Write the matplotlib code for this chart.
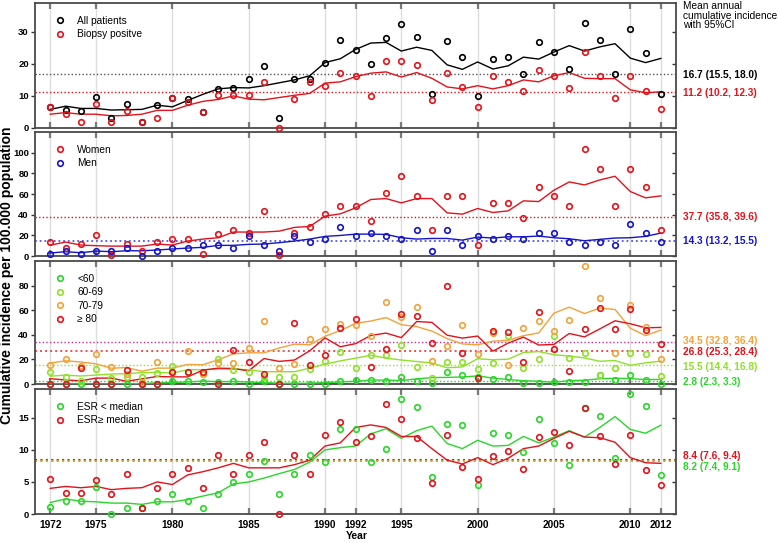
import matplotlib
matplotlib.use('Agg')
import matplotlib.pyplot as plt
from matplotlib.lines import Line2D

plt.rcParams['font.family'] = ['Liberation Sans', 'DejaVu Sans']

years = list(range(1972, 2013))
xticks = [1972, 1975, 1980, 1985, 1990, 1992, 1995, 2000, 2005, 2010, 2012]

# panel 1: all patients / biopsy positive
all_pts = [6.5, 5.5, 5.4, 9.6, 3.1, 7.4, 2.0, 7.2, 9.3, 9.1,
           4.9, 12.3, 12.4, 15.2, 19.4, 3.1, 15.2, 15.2, 20.3, 27.5,
           24.3, 20.1, 28.0, 32.5, 28.4, 10.6, 27.2, 22.3, 10.0, 21.6,
           22.0, 16.7, 26.7, 23.6, 18.4, 32.7, 27.4, 16.7, 31.0, 23.5, 10.5]
all_ma = [5.8, 6.8, 6.1, 6.1, 5.6, 5.7, 5.8, 7.1, 6.6, 8.6,
          10.5, 12.2, 12.6, 12.5, 13.2, 14.1, 15.0, 16.3, 20.4, 21.6,
          24.5, 26.5, 26.7, 24.0, 25.2, 24.2, 19.7, 18.3, 20.6, 18.4,
          19.4, 22.1, 21.5, 23.7, 25.7, 24.0, 25.3, 26.3, 21.8, 20.4, 21.7]
bio_pts = [6.5, 4.3, 2.0, 7.5, 2.0, 5.2, 2.0, 3.1, 9.3, 8.1,
           4.9, 10.2, 10.2, 10.2, 14.4, 0.1, 9.1, 14.4, 13.2, 17.1,
           16.2, 10.1, 21.0, 20.8, 19.6, 8.6, 17.0, 12.9, 6.4, 16.2,
           14.3, 11.4, 18.1, 16.2, 12.5, 23.8, 16.2, 9.4, 16.2, 11.5, 5.9]
bio_ma = [4.3, 4.8, 4.3, 4.3, 3.8, 3.9, 4.3, 5.5, 5.5, 7.1,
          8.3, 8.9, 10.0, 9.0, 8.8, 9.5, 10.2, 10.8, 14.0, 14.4,
          16.0, 17.1, 17.5, 15.9, 17.3, 15.5, 12.8, 12.2, 13.2, 12.2,
          13.2, 15.0, 14.4, 16.3, 17.3, 15.5, 15.4, 15.4, 11.9, 11.0, 11.3]

# panel 2: women / men
women = [13.5, 7.7, 11.3, 19.9, 1.0, 11.3, 4.8, 13.8, 16.7, 16.7,
         1.6, 21.5, 25.1, 22.5, 43.4, 1.0, 22.5, 28.3, 40.5, 48.6,
         48.6, 34.1, 60.5, 77.8, 57.6, 25.4, 57.6, 57.6, 10.6, 51.4,
         51.4, 37.0, 66.6, 57.6, 48.6, 103.9, 83.9, 48.6, 83.9, 66.6, 25.4]
women_ma = [10.6, 13.5, 10.6, 10.0, 9.6, 9.6, 9.6, 11.6, 10.6, 14.5,
            16.4, 17.7, 23.2, 23.2, 23.2, 24.1, 27.7, 28.6, 38.6, 40.8,
            46.6, 54.7, 55.6, 51.4, 55.6, 55.6, 41.8, 40.5, 46.0, 42.1,
            43.7, 53.4, 52.7, 63.7, 71.7, 68.8, 73.6, 77.2, 62.4, 56.3, 58.2]
men = [1.6, 4.8, 1.6, 4.8, 4.8, 7.7, 0.0, 4.8, 7.7, 7.7,
       10.6, 10.6, 7.7, 19.3, 10.6, 4.8, 19.3, 13.8, 16.1, 28.3,
       19.3, 21.9, 19.3, 16.4, 25.4, 4.8, 25.4, 10.6, 19.3, 16.4,
       19.3, 16.4, 22.2, 22.2, 13.8, 10.6, 13.8, 10.6, 31.2, 22.2, 13.8]
men_ma = [2.9, 4.2, 3.2, 4.8, 4.2, 5.1, 5.1, 5.8, 6.8, 7.7,
          8.4, 10.3, 10.3, 11.3, 11.6, 12.9, 14.5, 16.4, 19.0, 19.9,
          21.2, 21.2, 20.9, 17.7, 16.4, 17.0, 17.0, 15.4, 18.3, 17.4,
          18.6, 18.6, 19.3, 17.7, 16.7, 14.8, 16.1, 17.4, 17.7, 19.0, 22.2]

# panel 3: age groups
c60 = [0, 0, 0, 0, 0, 0, 0, 0, 2.3, 2.3,
       2.0, 2.0, 2.8, 0.4, 2.8, 0, 0, 0, 0, 2.8,
       3.0, 2.9, 2.1, 5.3, 2.7, 1.0, 9.9, 7.2, 6.1, 4.3,
       5.6, 1.0, 1.0, 1.6, 1.6, 1.6, 7.5, 3.2, 7.7, 3.5, 0]
c60_ma = [0, 0, 0, 0, 0, 0, 0.5, 0.9, 1.3, 1.7,
          2.3, 1.9, 2.0, 1.6, 1.2, 0.6, 0.6, 0.6, 1.2, 1.7,
          2.2, 3.2, 3.2, 2.8, 4.2, 5.2, 5.4, 5.7, 6.6, 4.8,
          3.6, 2.7, 2.2, 1.4, 2.7, 3.1, 4.3, 4.7, 4.4, 3.6, 3.7]
c6069 = [9.7, 5.5, 2.7, 12.6, 5.0, 5.7, 5.7, 8.7, 15.0, 10.0,
         8.0, 20.6, 11.3, 10.0, 5.5, 6.0, 5.5, 12.0, 18.5, 25.7,
         12.8, 23.2, 23.7, 31.5, 13.9, 5.0, 17.6, 17.6, 12.0, 17.3,
         38.7, 13.1, 20.0, 38.9, 21.3, 25.6, 7.5, 12.8, 25.1, 24.3, 6.4]
c6069_ma = [6.3, 7.3, 6.5, 7.3, 8.1, 8.4, 9.2, 9.5, 8.9, 11.6,
            11.6, 12.1, 12.1, 11.6, 10.0, 10.0, 10.0, 12.9, 16.1, 18.8,
            21.0, 23.4, 21.0, 19.5, 18.3, 17.1, 13.2, 13.9, 20.6, 19.7,
            20.2, 25.6, 26.4, 23.8, 22.7, 21.2, 18.5, 19.1, 15.2, 17.2, 18.6]
c7079 = [15.6, 20.4, 15.0, 24.4, 14.0, 8.4, 2.0, 18.0, 9.5, 26.8,
         8.4, 16.9, 16.7, 29.5, 51.1, 13.0, 16.1, 36.9, 44.9, 48.4,
         47.9, 38.7, 66.4, 54.4, 62.7, 18.9, 31.2, 47.7, 24.0, 41.1,
         15.7, 45.6, 51.2, 42.9, 52.0, 96.3, 69.9, 25.6, 64.5, 46.7, 20.5]
c7079_ma = [17.0, 18.9, 17.9, 16.4, 12.8, 13.4, 10.4, 12.9, 12.9, 15.9,
            15.7, 19.7, 24.5, 25.4, 25.3, 29.3, 32.4, 31.9, 38.8, 43.4,
            49.3, 51.2, 54.0, 48.2, 46.7, 43.0, 36.9, 32.6, 31.9, 34.8,
            35.5, 39.3, 41.5, 57.6, 62.5, 57.3, 61.7, 60.6, 45.4, 39.3, 43.9]
c80 = [0, 0, 13.0, 0, 0, 11.1, 0, 0, 10.0, 9.5,
       9.5, 0, 27.5, 17.8, 8.4, 0, 50.0, 15.6, 23.3, 45.9,
       52.5, 14.0, 28.4, 56.8, 55.5, 33.6, 79.5, 25.3, 4.8, 43.2,
       42.4, 17.6, 58.7, 28.8, 10.9, 45.0, 61.9, 45.0, 61.1, 44.0, 32.8]
c80_ma = [4.3, 3.3, 2.6, 4.8, 4.8, 2.2, 4.2, 6.1, 5.8, 5.8,
          11.3, 12.9, 12.6, 10.7, 20.7, 18.4, 19.5, 27.0, 37.5, 30.3,
          32.8, 39.5, 41.4, 37.7, 50.8, 50.1, 39.7, 37.3, 39.0, 26.7,
          33.3, 38.1, 31.7, 32.2, 41.1, 38.3, 44.8, 51.4, 49.0, 45.7, 46.0]

# panel 4: ESR
esr_lo = [1.05, 2.1, 2.1, 4.2, 0, 1.0, 1.0, 2.0, 3.1, 2.0,
          1.0, 3.1, 5.0, 6.2, 8.3, 3.1, 6.2, 9.25, 8.1, 13.3,
          13.3, 8.1, 10.1, 17.9, 16.7, 5.85, 14.1, 13.85, 4.6, 12.65,
          12.4, 9.6, 14.8, 11.0, 7.6, 16.5, 15.3, 8.8, 18.7, 16.8, 6.1]
esr_lo_ma = [1.8, 2.35, 2.0, 1.9, 1.7, 1.7, 1.5, 1.9, 1.9, 2.25,
             2.8, 3.3, 4.7, 5.0, 5.6, 6.3, 6.95, 8.1, 10.0, 10.35,
             10.6, 12.5, 13.3, 11.8, 13.0, 13.7, 11.0, 10.2, 11.5, 10.6,
             10.7, 12.1, 11.1, 12.0, 13.0, 12.0, 13.5, 15.2, 13.2, 12.6, 13.85]
esr_hi = [5.4, 3.2, 3.2, 5.3, 3.1, 6.2, 1.0, 4.1, 6.2, 7.1,
          4.1, 9.25, 6.2, 9.25, 11.3, 0, 9.25, 6.2, 12.3, 14.3,
          11.3, 12.2, 17.1, 14.8, 11.8, 4.8, 12.3, 7.4, 5.4, 9.0,
          9.8, 7.0, 12.0, 12.8, 10.8, 16.5, 12.2, 7.8, 12.4, 6.9, 4.5]
esr_hi_ma = [4.0, 4.3, 4.1, 4.3, 3.8, 4.0, 4.1, 5.0, 4.6, 6.1,
             6.6, 7.2, 7.9, 7.2, 7.2, 7.2, 7.7, 8.4, 10.6, 11.1,
             13.5, 13.9, 13.5, 12.1, 12.1, 10.2, 8.4, 7.8, 8.8, 7.7,
             8.7, 10.2, 10.6, 11.8, 12.9, 12.0, 11.9, 11.2, 8.8, 8.0, 7.9]

# means with CI text
means1 = [16.7, 11.2]
labels1 = ['16.7 (15.5, 18.0)', '11.2 (10.2, 12.3)']
means2 = [37.7, 14.3]
labels2 = ['37.7 (35.8, 39.6)', '14.3 (13.2, 15.5)']
means3 = [34.5, 26.8, 15.5, 2.8]
labels3 = ['34.5 (32.8, 36.4)', '26.8 (25.3, 28.4)', '15.5 (14.4, 16.8)', '2.8 (2.3, 3.3)']
means4 = [8.4, 8.2]
labels4 = ['8.4 (7.6, 9.4)', '8.2 (7.4, 9.1)']

RED = '#e3121b'
BLUE = '#1414c8'
GREEN = '#2ad62a'
LGREEN = '#8fe12a'
ORANGE = '#f2a23a'

fig = plt.figure(figsize=(7.78, 5.43), dpi=100)
L, R = 0.045, 0.869
boxes = [(0.7643, 0.9945), (0.5285, 0.7569), (0.2928, 0.5193), (0.0534, 0.2836)]
axes = [fig.add_axes([L, b, R - L, t - b]) for b, t in boxes]


def setup(ax, ymax, yticks):
    ax.set_xlim(1971, 2013)
    ax.set_ylim(0, ymax)
    for x in xticks:
        ax.axvline(x, color='#dedede', lw=1, zorder=0)
    ax.set_xticks(xticks)
    ax.tick_params(axis='x', direction='in', top=True, bottom=True, length=4,
                   width=1.6, color='#7a7a7a', labelbottom=False)
    ax.set_yticks(yticks)
    ax.tick_params(axis='y', direction='out', length=3, width=1, color='#333333',
                   labelsize=6.8, pad=1.5)
    for lab in ax.get_yticklabels():
        lab.set_fontweight('bold')
    sec = ax.secondary_yaxis('right')
    sec.set_yticks(yticks)
    sec.tick_params(direction='in', length=3, width=1, color='#333333', labelright=False)
    sec.spines['right'].set_visible(False)
    for s in ax.spines.values():
        s.set_color('#4a4a4a')
        s.set_linewidth(1.3)


def series(ax, pts, ma, color, lw=1.0):
    ax.plot(years, ma, color=color, lw=lw, zorder=3)
    ax.plot(years, pts, 'o', ms=4, mfc='none', mec=color, mew=1.2, zorder=4,
            clip_on=False)


def meanline(ax, y, color, lw=1.0):
    ax.axhline(y, color=color, lw=lw, ls=(0, (1, 1.6)), zorder=2)


def legend(ax, names, colors):
    handles = [Line2D([], [], marker='o', ls='none', ms=4, mfc='none', mec=c, mew=1.2)
               for c in colors]
    ax.legend(handles, names, loc='upper left', bbox_to_anchor=(0.025, 0.93),
              frameon=False, fontsize=7.3, handletextpad=1.2, labelspacing=0.35,
              borderaxespad=0, handlelength=1)


def cilabels(ax, ys, texts, colors):
    for y, t, c in zip(ys, texts, colors):
        ax.text(1.011, y, t, transform=ax.get_yaxis_transform(), color=c,
                fontsize=7.3, fontweight='bold', va='center', ha='left')


# panel 1
ax = axes[0]
setup(ax, 39, [0, 10, 20, 30])
meanline(ax, means1[0], '#555555')
meanline(ax, means1[1], RED)
series(ax, all_pts, all_ma, 'black')
series(ax, bio_pts, bio_ma, RED)
legend(ax, ['All patients', 'Biopsy positve'], ['black', RED])
cilabels(ax, [16.4, 11.0], labels1, ['black', RED])

# panel 2
ax = axes[1]
setup(ax, 120, [0, 20, 40, 60, 80, 100])
meanline(ax, means2[0], RED)
meanline(ax, means2[1], '#5555dd', lw=1.3)
series(ax, women, women_ma, RED)
series(ax, men, men_ma, BLUE)
legend(ax, ['Women', 'Men'], [RED, BLUE])
cilabels(ax, [37.7, 14.6], labels2, [RED, BLUE])

# panel 3
ax = axes[2]
setup(ax, 100, [0, 20, 40, 60, 80])
meanline(ax, means3[0], '#c8308c')
meanline(ax, means3[1], '#e85050', lw=1.4)
meanline(ax, means3[2], LGREEN)
meanline(ax, means3[3], GREEN)
series(ax, c60, c60_ma, GREEN)
series(ax, c6069, c6069_ma, LGREEN)
series(ax, c7079, c7079_ma, ORANGE)
series(ax, c80, c80_ma, RED)
legend(ax, ['<60', '60-69', '70-79', '\u2265 80'], [GREEN, LGREEN, ORANGE, RED])
cilabels(ax, [34.6, 26.2, 14.2, 1.5], labels3, [ORANGE, RED, LGREEN, GREEN])

# panel 4
ax = axes[3]
setup(ax, 19.5, [0, 5, 10, 15])
meanline(ax, means4[0], RED, lw=1.5)
meanline(ax, means4[1], '#b8b040', lw=1.5)
series(ax, esr_lo, esr_lo_ma, GREEN)
series(ax, esr_hi, esr_hi_ma, RED)
legend(ax, ['ESR < median', 'ESR\u2265 median'], [GREEN, RED])
cilabels(ax, [9.1, 7.3], labels4, [RED, GREEN])
ax.tick_params(axis='x', labelbottom=True, labelsize=7.3, pad=4)
for lab in ax.get_xticklabels():
    lab.set_fontweight('bold')

fig.text(0.878, 0.998, 'Mean annual\ncumulative incidence\nwith 95%CI', va='top',
         ha='left', fontsize=7.3, linespacing=0.95)
fig.text(0.0085, 0.494, 'Cumulative incidence per 100.000 population', rotation=90,
         fontsize=10, fontweight='bold', va='center', ha='center')
fig.text(0.458, 0.003, 'Year', fontsize=7.5, fontweight='bold', va='bottom', ha='center')

fig.savefig('out.png', dpi=100)
